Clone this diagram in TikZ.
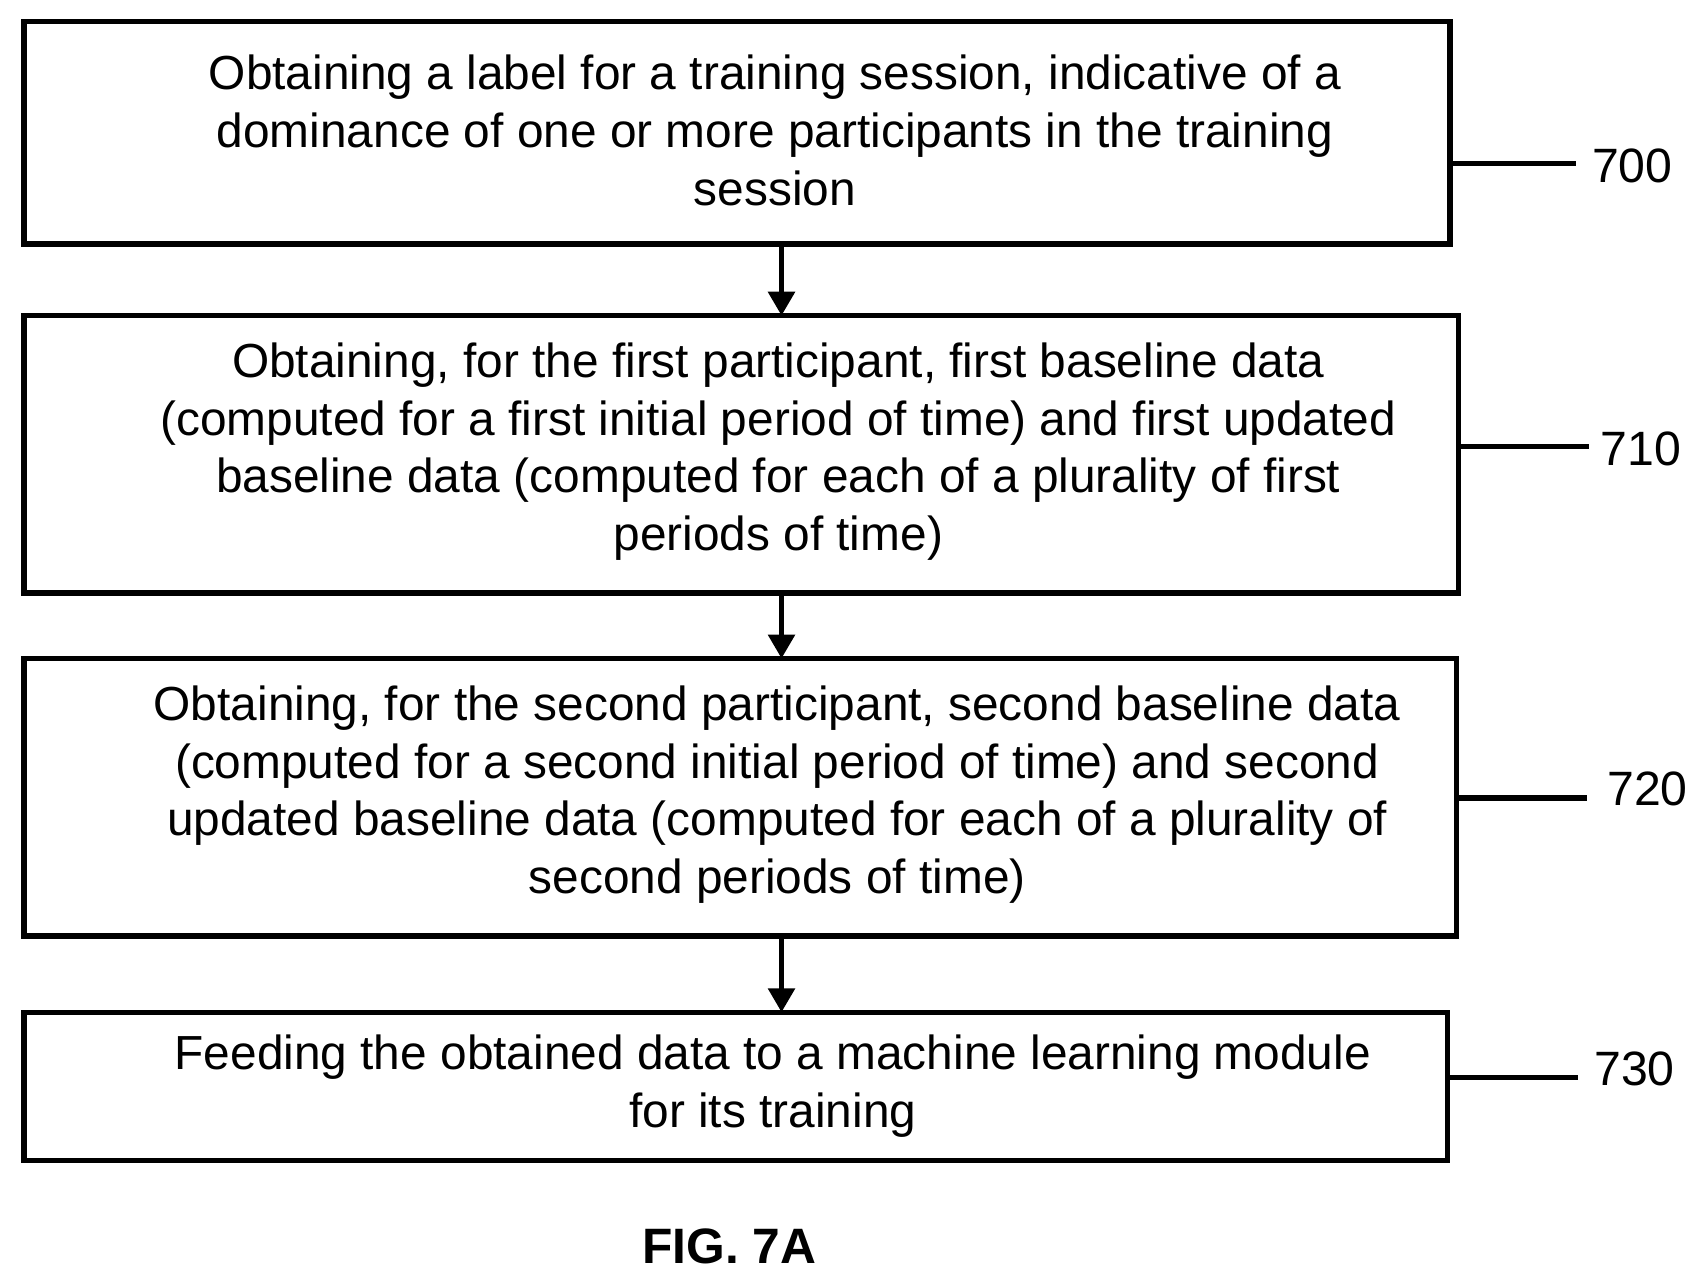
\documentclass[tikz,border=0pt]{standalone}
\usepackage{fontspec}
\setmainfont{Liberation Sans}
\usetikzlibrary{arrows.meta}
\begin{document}
\begin{tikzpicture}[x=0.1mm,y=-0.1mm,
  box/.style={draw,line width=0.5mm,inner sep=0pt},
  txt/.style={align=center,font=\fontsize{12.5pt}{15.1pt}\selectfont},
  lead/.style={line width=0.5mm},
  arr/.style={line width=0.5mm,-{Triangle[length=2.2mm,width=2.4mm]}},
  num/.style={font=\fontsize{12.6pt}{13pt}\selectfont,anchor=west,inner sep=0pt}]
\useasboundingbox (0,0) rectangle (1560,1175);
\draw[box] (22,20) rectangle (1332,224);
\node[txt] (t0) at (712,120) {Obtaining a label for a training session, indicative of a\\dominance of one or more participants in the training\\session};
\draw[box] (22,290) rectangle (1340,545);
\node[txt] (t1) at (715,415) {Obtaining, for the first participant, first baseline data\\(computed for a first initial period of time) and first updated\\baseline data (computed for each of a plurality of first\\periods of time)};
\draw[box] (22,605) rectangle (1338,860);
\node[txt] (t2) at (714,730) {Obtaining, for the second participant, second baseline data\\(computed for a second initial period of time) and second\\updated baseline data (computed for each of a plurality of\\second periods of time)};
\draw[box] (22,930) rectangle (1330,1066);
\node[txt] (t3) at (710,998) {Feeding the obtained data to a machine learning module\\for its training};
\coordinate (b0) at (718,224); \coordinate (a1) at (718,290);
\coordinate (b1) at (718,545); \coordinate (a2) at (718,605);
\coordinate (b2) at (718,860); \coordinate (a3) at (718,930);
\draw[arr] (b0) -- (a1);
\draw[arr] (b1) -- (a2);
\draw[arr] (b2) -- (a3);
\coordinate (l0) at (1332,150); \node[num] (n0) at (1462,152) {700};
\coordinate (l1) at (1340,410); \node[num] (n1) at (1470,412) {710};
\coordinate (l2) at (1338,733); \node[num] (n2) at (1476,725) {720};
\coordinate (l3) at (1330,990); \node[num] (n3) at (1464,982) {730};
\draw[lead] (l0) -- (1448,150);
\draw[lead] (l1) -- (1460,410);
\draw[lead] (l2) -- (1458,733);
\draw[lead] (l3) -- (1450,990);
\node[font=\bfseries\fontsize{13pt}{15pt}\selectfont] (fig) at (670,1145) {FIG. 7A};
\end{tikzpicture}
\end{document}
